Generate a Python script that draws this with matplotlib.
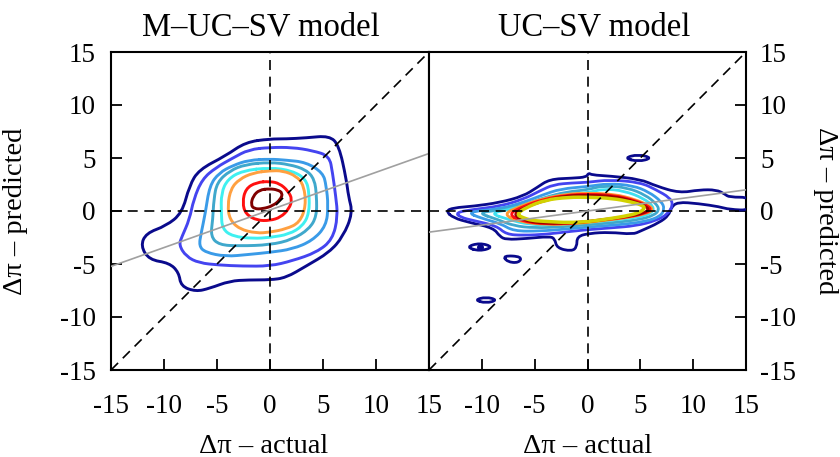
import numpy as np
import matplotlib
matplotlib.use("Agg")
import matplotlib.pyplot as plt
from matplotlib.path import Path
from matplotlib.patches import PathPatch

plt.rcParams['font.family'] = ['Liberation Serif', 'DejaVu Serif']
plt.rcParams['axes.unicode_minus'] = False

# ---------------- data ----------------
titles = ["M\u2013UC\u2013SV model", "UC\u2013SV model"]
xlabel = "\u0394\u03c0 \u2013 actual"
ylabel = "\u0394\u03c0 \u2013 predicted"
axis_ticks = [-15, -10, -5, 0, 5, 10, 15]
reg_slope = [0.355, 0.133]
reg_intercept = [0.1, 0.0]

# Left panel (M-UC-SV) density contours, outer -> inner
left_c1_x = [0, 1.5, 3.4, 5.6, 6.5, 7.2, 7.4, 7.8, 6.9, 5.6, 3.4, 1.5, 0, -2.0, -3.8, -5.7, -7.0, -8.4, -8.6, -9.5, -11.4, -12.2, -11.7, -9.8, -8.3, -7.6, -6.7, -4.2, -2.3]
left_c1_y = [6.8, 6.8, 6.9, 7.1, 6.2, 3.0, 1.4, -0.2, -2.4, -3.9, -5.2, -6.3, -6.5, -6.5, -6.6, -7.3, -7.6, -7.1, -5.8, -4.9, -4.6, -3.3, -2.1, -1.4, -0.2, 2.4, 3.9, 5.2, 6.5]
left_c2_x = [0, 2.1, 4.0, 5.6, 5.9, 6.2, 6.4, 5.9, 4.4, 2.1, 0, -2.6, -4.8, -6.7, -7.9, -8.6, -8.3, -7.6, -7.2, -6.4, -5.1, -3.5, -2.0]
left_c2_y = [6.0, 6.0, 5.7, 5.2, 3.6, 1.4, -0.5, -2.7, -3.9, -4.7, -5.2, -5.2, -5.1, -4.9, -4.3, -3.2, -2.4, -0.8, 1.1, 3.0, 4.1, 5.0, 5.8]
left_c3_x = [0, 1.5, 3.4, 5.0, 5.3, 5.5, 5.3, 4.0, 2.1, 0, -2.0, -4.2, -6.1, -6.7, -6.5, -6.1, -5.7, -4.8, -3.5, -2.0]
left_c3_y = [4.9, 4.8, 4.6, 3.6, 2.4, 0.5, -1.4, -2.8, -3.6, -3.9, -4.1, -4.3, -3.9, -3.3, -2.1, -0.2, 2.4, 3.6, 4.3, 4.8]
left_c4_x = [0, 1.8, 3.4, 4.2, 4.4, 4.4, 3.7, 2.1, 0, -2.9, -4.8, -5.6, -5.4, -5.3, -5.0, -3.8, -2.3]
left_c4_y = [4.6, 4.4, 3.9, 3.0, 1.4, -0.5, -1.7, -2.7, -3.2, -3.3, -3.2, -2.4, -0.8, 1.1, 2.7, 3.8, 4.4]
left_c5_x = [0, 2.1, 3.4, 3.7, 3.7, 3.1, 1.8, 0, -1.6, -3.5, -4.5, -4.6, -4.6, -4.0, -2.6]
left_c5_y = [4.1, 3.8, 3.0, 1.7, -0.2, -1.4, -2.2, -2.5, -2.6, -2.4, -1.7, -0.2, 1.7, 3.0, 3.8]
left_c6_x = [0, 1.2, 2.5, 3.2, 3.4, 2.8, 1.5, 0, -1.3, -2.9, -3.8, -4.0, -3.7, -2.9, -1.6]
left_c6_y = [3.8, 3.8, 3.3, 2.4, 0.5, -1.1, -1.7, -2.0, -2.1, -1.7, -0.8, 0.5, 2.1, 3.0, 3.6]
left_c7_x = [0, 0.9, 1.7, 2.1, 1.8, 1.0, 0, -1.2, -2.3, -2.6, -2.3, -1.3]
left_c7_y = [2.8, 2.6, 1.9, 1.1, 0.2, -0.6, -0.9, -0.9, -0.3, 0.8, 2.1, 2.7]
left_c8_x = [0, 0.7, 1.2, 1.0, 0.3, -0.7, -1.5, -1.8, -1.6, -1.0]
left_c8_y = [2.1, 2.0, 1.7, 1.1, 0.5, 0.2, 0.2, 0.6, 1.4, 2.0]

# Right panel (UC-SV) density contours, outer -> inner
right_c1_x = [-13.4, -12.7, -10.8, -8.3, -6.1, -4.8, -3.6, -1.4, -0.1, 0.1, 0.4, 2.1, 5.0, 6.5, 8.7, 10.6, 12.2, 13.0, 13.4, 15.5, 15.5, 13.4, 12.5, 10.5, 8.5, 7.9, 7.7, 6.8, 5.0, 4.3, 2.1, 0.2, -1.0, -1.0, -1.5, -2.9, -3.1, -3.6, -5.8, -7.7, -8.3, -8.9, -11.1, -12.7]
right_c1_y = [0.0, 0.3, 0.45, 0.8, 1.4, 2.2, 3.0, 3.1, 3.2, 3.6, 3.4, 3.3, 3.0, 2.35, 1.7, 2.0, 2.0, 1.6, 1.3, 1.3, 0.05, 0.15, 0.4, 0.7, 0.85, 0.3, -0.4, -1.1, -1.9, -2.2, -2.0, -2.1, -2.4, -3.4, -3.8, -3.5, -2.6, -2.4, -2.6, -2.7, -2.4, -1.6, -1.1, -0.65]
right_c2_x = [-12.5, -10.8, -8.3, -6.1, -4.5, -3.2, -1.4, 0, 2.1, 5.0, 6.5, 7.8, 8.1, 7.6, 6.5, 4.6, 2.1, 0.2, -1.4, -3.9, -6.1, -7.7, -8.6, -10.8, -12.0]
right_c2_y = [-0.15, 0.15, 0.45, 1.1, 1.9, 2.5, 2.65, 2.7, 2.95, 2.7, 2.0, 1.25, 0.6, -0.3, -0.9, -1.4, -1.6, -1.75, -1.9, -2.2, -2.3, -2.2, -1.4, -0.9, -0.6]
right_c3_x = [-11.5, -8.3, -6.1, -4.3, -2.5, 0, 2.0, 4.3, 5.8, 7.0, 7.3, 6.9, 5.5, 3.0, 0.2, -2.0, -4.5, -7.0, -8.2, -10.0]
right_c3_y = [-0.1, 0.2, 0.8, 1.5, 2.1, 2.3, 2.6, 2.4, 1.8, 0.9, 0.2, -0.5, -1.0, -1.3, -1.5, -1.7, -1.9, -1.9, -1.2, -0.7]
right_c4_x = [-10.5, -8.0, -6.0, -4.0, -2.0, 0, 1.5, 3.8, 5.5, 6.5, 6.8, 6.3, 5.0, 2.5, 0, -2.5, -5.0, -7.0, -8.5]
right_c4_y = [-0.15, 0.1, 0.6, 1.3, 1.8, 2.0, 2.4, 2.2, 1.5, 0.7, 0.1, -0.4, -0.8, -1.1, -1.3, -1.5, -1.6, -1.4, -0.8]
right_c5_x = [-9.3, -7.0, -5.0, -3.0, 0, 1.5, 3.5, 5.3, 6.3, 6.1, 4.8, 2.0, 0, -3.0, -5.5, -7.5]
right_c5_y = [-0.2, 0.2, 0.9, 1.5, 1.7, 2.1, 1.9, 1.2, 0.4, -0.2, -0.6, -0.9, -1.1, -1.3, -1.3, -0.8]
right_c6_x = [-8.0, -6.5, -4.5, -2.0, 0, 2.5, 4.5, 5.9, 6.2, 5.7, 4.0, 1.5, -1.0, -4.0, -6.5]
right_c6_y = [-0.3, 0.4, 1.1, 1.6, 1.7, 1.6, 1.1, 0.5, 0.1, -0.2, -0.6, -0.9, -1.2, -1.3, -1.0]
right_c7_x = [-7.5, -6.2, -4.2, -2.0, 0, 2.5, 4.5, 5.8, 6.0, 5.5, 4.0, 1.5, -1.0, -4.0, -6.3]
right_c7_y = [-0.3, 0.4, 1.1, 1.5, 1.6, 1.5, 1.0, 0.45, 0.1, -0.2, -0.55, -0.85, -1.15, -1.25, -0.95]
right_c8_x = [-7.1, -5.8, -4.0, -2.0, 0, 2.5, 4.5, 5.6, 5.8, 5.3, 4.0, 1.5, -1.0, -4.0, -6.0]
right_c8_y = [-0.3, 0.4, 1.0, 1.45, 1.5, 1.4, 0.9, 0.4, 0.1, -0.2, -0.5, -0.8, -1.1, -1.2, -0.9]
right_c9_x = [-6.7, -5.9, -4.0, -1.8, 0.1, 2.3, 4.2, 5.3, 5.4, 4.8, 3.5, 1.6, 0.1, -1.8, -3.7, -5.3, -6.2]
right_c9_y = [-0.3, 0.3, 1.05, 1.3, 1.3, 1.2, 0.85, 0.5, 0.2, -0.2, -0.5, -0.8, -1.0, -1.1, -1.0, -0.9, -0.6]

# Right panel small outer-level islands
island_x = [[-11.5, -10.2, -8.9, -10.2], [-8.0, -6.2, -6.5, -7.6], [-10.7, -9.6, -8.5, -9.6], [3.45, 4.8, 6.15, 4.8]]
island_y = [[-3.4, -3.0, -3.4, -3.8], [-4.2, -4.3, -4.9, -4.8], [-8.4, -8.1, -8.4, -8.7], [5.0, 5.35, 5.0, 4.65]]
island_dot_x = [-10.2]
island_dot_y = [-3.4]

left_colors = ['#0a0a8c', '#4444f0', '#3a9be8', '#3fa8cc', '#3ff0f0', '#ffa040', '#ff1010', '#800000']
right_colors = ['#0a0a8c', '#4444f0', '#3a9be8', '#3fa8cc', '#3fe0f0', '#ff9a30', '#ff1010', '#a00000', '#d2d200']

left_contours = [(left_c1_x, left_c1_y), (left_c2_x, left_c2_y), (left_c3_x, left_c3_y), (left_c4_x, left_c4_y),
                 (left_c5_x, left_c5_y), (left_c6_x, left_c6_y), (left_c7_x, left_c7_y), (left_c8_x, left_c8_y)]
right_contours = [(right_c1_x, right_c1_y), (right_c2_x, right_c2_y), (right_c3_x, right_c3_y), (right_c4_x, right_c4_y),
                  (right_c5_x, right_c5_y), (right_c6_x, right_c6_y), (right_c7_x, right_c7_y), (right_c8_x, right_c8_y),
                  (right_c9_x, right_c9_y)]


def smooth_closed(ax, xs, ys, color, lw=2.0):
    """Closed smooth curve using matplotlib quadratic Bezier path codes."""
    P = np.column_stack([xs, ys]).astype(float)
    n = len(P)
    M = (P + np.roll(P, -1, axis=0)) / 2.0
    verts = [M[-1]]
    codes = [Path.MOVETO]
    for i in range(n):
        verts.append(P[i]); codes.append(Path.CURVE3)
        verts.append(M[i]); codes.append(Path.CURVE3)
    patch = PathPatch(Path(verts, codes), fill=False, edgecolor=color, lw=lw, zorder=3,
                      joinstyle='round', capstyle='round')
    ax.add_patch(patch)


fig = plt.figure(figsize=(8.4, 4.57), dpi=100)
ax1 = fig.add_axes([111 / 840, 87 / 457, 318 / 840, 318 / 457])
ax2 = fig.add_axes([429 / 840, 87 / 457, 317 / 840, 318 / 457])

FS_TICK = 19.5
FS_LAB = 20.5
FS_TITLE = 23.5

title_x = [0.47, 0.52]
xlabel_x = [0.48, 0.5]

for k, ax in enumerate([ax1, ax2]):
    ax.set_xlim(-15, 15)
    ax.set_ylim(-15, 15)
    # reference lines
    ax.plot([-15, 15], [-15, 15], color='black', lw=1.2, dashes=(6, 4), zorder=4)
    ax.axhline(0, color='black', lw=1.2, dashes=(6, 4), zorder=4)
    ax.axvline(0, color='black', lw=1.2, dashes=(6, 4), zorder=4)
    xr = np.array([-15, 15])
    ax.plot(xr, reg_intercept[k] + reg_slope[k] * xr, color='#a0a0a0', lw=1.2, zorder=5)
    for s in ax.spines.values():
        s.set_linewidth(1.5)
    ax.set_title(titles[k], fontsize=FS_TITLE, pad=12, x=title_x[k])
    ax.set_xlabel(xlabel, fontsize=FS_LAB)
    ax.xaxis.set_label_coords(xlabel_x[k], -0.2)
    ax.set_yticks(axis_ticks)

for (xs, ys), c in zip(left_contours, left_colors):
    smooth_closed(ax1, xs, ys, c, lw=2.1)
for (xs, ys), c in zip(right_contours, right_colors):
    smooth_closed(ax2, xs, ys, c, lw=2.5 if c == '#d2d200' else 2.0)
for xs, ys in zip(island_x, island_y):
    smooth_closed(ax2, xs, ys, right_colors[0])
ax2.plot(island_dot_x, island_dot_y, 'o', color=right_colors[0], ms=4, zorder=3)

ax1.set_xticks(axis_ticks)
ax1.set_xticklabels([str(t) for t in axis_ticks])
ax1.tick_params(axis='both', direction='in', length=8, width=1.3, labelsize=FS_TICK,
                top=False, right=False)
ax1.tick_params(axis='y', pad=11)
ax1.set_ylabel(ylabel, fontsize=FS_LAB)
ax1.yaxis.set_label_coords(-0.262, 0.5)

ax2.set_xticks(axis_ticks[1:])
ax2.tick_params(axis='both', direction='in', length=8, width=1.3, labelsize=FS_TICK,
                top=False, left=False, right=True, labelleft=False, labelright=True)
ax2.tick_params(axis='y', pad=10)
ax2.yaxis.set_label_position('right')
ax2.set_ylabel(ylabel, fontsize=FS_LAB, rotation=270, va='center')
ax2.yaxis.set_label_coords(1.25, 0.5)
ax1.tick_params(axis='x', pad=17)
ax2.tick_params(axis='x', pad=17)

fig.savefig('out.png', dpi=100)
